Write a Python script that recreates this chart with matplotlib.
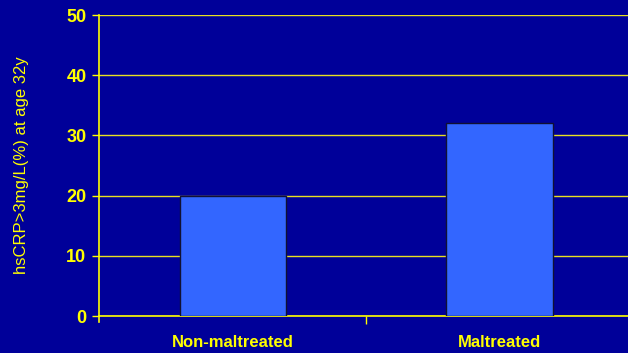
import matplotlib
matplotlib.use("Agg")
import matplotlib.pyplot as plt
from matplotlib.ticker import FixedLocator, NullFormatter

categories = ["Non-maltreated", "Maltreated"]
values = [20, 32]
y_ticks = [0, 10, 20, 30, 40, 50]
y_label = "hsCRP>3mg/L(%) at age 32y"

BG = "#000099"
YEL = "#FFFF00"
BAR = "#3366FF"
FONT = ["Liberation Sans Narrow", "Liberation Sans", "DejaVu Sans"]

fig = plt.figure(figsize=(6.28, 3.53), dpi=100, facecolor=BG)
ax = fig.add_axes([0.1576, 0.1048, 0.8424, 0.8527], facecolor=BG)

x = list(range(len(categories)))
ax.bar(x, values, width=0.4, color=BAR, edgecolor="#111133", linewidth=1.0, zorder=3)

ax.set_xlim(-0.503, 1.482)
ax.set_ylim(0, 50)

ax.set_yticks(y_ticks)
ax.set_yticklabels([str(t) for t in y_ticks], fontsize=13, fontweight="bold",
                   color=YEL, family=FONT)
ax.yaxis.grid(True, color="#E8E020", linewidth=1.0, zorder=0)
ax.set_axisbelow(True)

# category separators as major ticks, names on minor ticks
ax.xaxis.set_major_locator(FixedLocator([i + 0.5 for i in x[:-1]]))
ax.xaxis.set_major_formatter(NullFormatter())
ax.xaxis.set_minor_locator(FixedLocator(x))
ax.set_xticklabels(categories, minor=True, fontsize=12, fontweight="bold",
                   color=YEL, family=FONT)
ax.tick_params(axis="x", which="major", direction="out", length=6, color=YEL, width=1)
ax.tick_params(axis="x", which="minor", length=0, pad=14)
ax.tick_params(axis="y", direction="out", length=5, color=YEL, width=1, pad=4)

for side in ("top", "right"):
    ax.spines[side].set_visible(False)
for side in ("left", "bottom"):
    ax.spines[side].set_color(YEL)
    ax.spines[side].set_linewidth(1.2)
ax.spines["left"].set_bounds(-1.0, 50)

ax.set_ylabel(y_label, fontsize=12, color=YEL, family=FONT)
ax.yaxis.set_label_coords(-0.133, 0.5)

fig.savefig("out.png", dpi=100, facecolor=BG)
